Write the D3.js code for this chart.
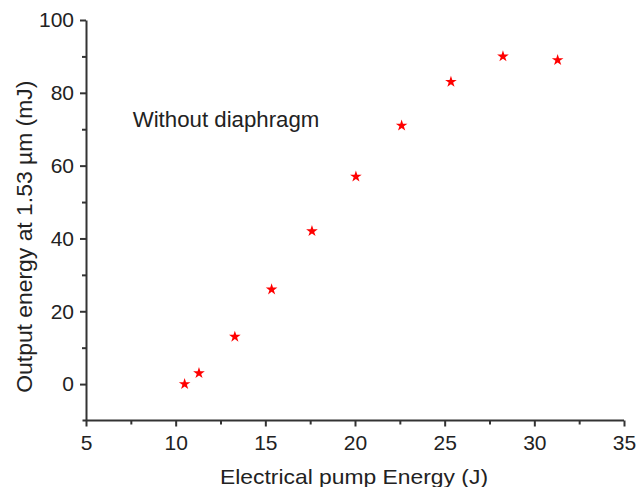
<!DOCTYPE html>
<html>
<head>
<meta charset="utf-8">
<script src="https://cdn.jsdelivr.net/npm/d3@7"></script>
<style>
  body { margin: 0; background: #fff; }
  svg { display: block; font-family: "Liberation Sans", Arial, sans-serif; }
  .axis path, .axis line { stroke: #333; stroke-width: 2px; }
  .axis text { fill: #222; font-size: 21px; }
</style>
</head>
<body>
<div class="chart"></div>
<script>
// pump energy (J) and output energy (mJ)
var pumpEnergy = [10.5, 11.3, 13.3, 15.35, 17.6, 20.05, 22.6, 25.35, 28.25, 31.3];
var outputEnergy = [0, 3, 13, 26, 42, 57, 71, 83, 90, 89];
var xTicks = [5, 10, 15, 20, 25, 30, 35];
var xMinor = [7.5, 12.5, 17.5, 22.5, 27.5, 32.5];
var yTicks = [0, 20, 40, 60, 80, 100];
var yMinor = [10, 30, 50, 70, 90];

var width = 636,
    height = 487;

var svg = d3.select(".chart")
  .append("svg")
  .attr("width", width)
  .attr("height", height);

var x = d3.scaleLinear()
  .domain([5, 35])
  .range([86, 624]);

var y = d3.scaleLinear()
  .domain([-10, 100])
  .range([420.5, 20]);

// minor ticks first, so major axes sit on top
svg.append("g")
  .attr("class", "axis")
  .attr("transform", "translate(0," + y(-10) + ")")
  .call(d3.axisBottom(x).tickValues(xMinor).tickSize(4).tickFormat(""))
  .select(".domain").remove();

svg.append("g")
  .attr("class", "axis")
  .attr("transform", "translate(" + x(5) + ",0)")
  .call(d3.axisLeft(y).tickValues(yMinor).tickSize(4).tickFormat(""))
  .select(".domain").remove();

var xAxis = svg.append("g")
  .attr("class", "axis")
  .attr("transform", "translate(0," + y(-10) + ")")
  .call(d3.axisBottom(x).tickValues(xTicks).tickSize(6).tickSizeOuter(0).tickPadding(9));

var yAxis = svg.append("g")
  .attr("class", "axis")
  .attr("transform", "translate(" + x(5) + ",0)")
  .call(d3.axisLeft(y).tickValues(yTicks).tickSize(6).tickSizeOuter(0).tickPadding(6));

// x axis line overhangs the corner a little
xAxis.select(".domain").attr("d", "M" + (x(5) - 3.5) + ",0H" + x(35));

// stars
var star = d3.symbol().type(d3.symbolStar).size(42);

svg.selectAll(".pt")
  .data(pumpEnergy)
  .enter()
  .append("path")
  .attr("class", "pt")
  .attr("d", star)
  .attr("transform", function(d, i){
    return "translate(" + x(d) + "," + y(outputEnergy[i]) + ")";
  })
  .style("fill", "#ff0000");

// labels
svg.append("text")
  .attr("x", 132.7)
  .attr("y", 126.7)
  .attr("textLength", 186.7)
  .attr("lengthAdjust", "spacingAndGlyphs")
  .style("font-size", "22px")
  .style("fill", "#222")
  .text("Without diaphragm");

svg.append("text")
  .attr("x", 354)
  .attr("y", 484)
  .attr("text-anchor", "middle")
  .attr("textLength", 268)
  .attr("lengthAdjust", "spacingAndGlyphs")
  .style("font-size", "21px")
  .style("fill", "#222")
  .text("Electrical pump Energy (J)");

svg.append("text")
  .attr("transform", "translate(32,236.7) rotate(-90)")
  .attr("text-anchor", "middle")
  .attr("textLength", 312)
  .attr("lengthAdjust", "spacingAndGlyphs")
  .style("font-size", "22px")
  .style("fill", "#222")
  .text("Output energy at 1.53 µm (mJ)");
</script>
</body>
</html>
